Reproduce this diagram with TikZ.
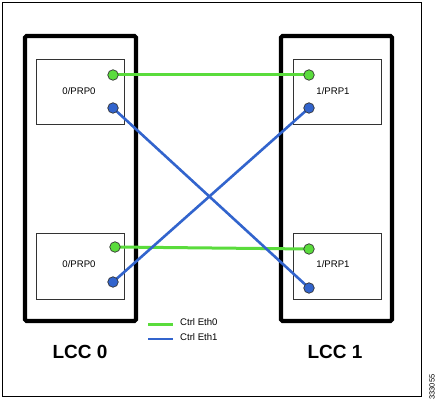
\documentclass[tikz,border=0pt]{standalone}
\usepackage{fontspec}
\setmainfont{Liberation Sans}
\begin{document}
\begin{tikzpicture}[x=1pt,y=-1pt,
  chassis/.style={draw=black,line width=4.2pt,rounded corners=1.5pt},
  card/.style={draw=black!80,line width=0.8pt,fill=white},
  gport/.style={circle,draw=black!80,line width=0.7pt,fill=linkgreen,minimum size=10.5pt,inner sep=0pt},
  bport/.style={circle,draw=black!80,line width=0.7pt,fill=linkblue,minimum size=10.5pt,inner sep=0pt},
  glink/.style={draw=linkgreen,line width=3pt},
  blink/.style={draw=linkblue,line width=2.6pt},
  small/.style={font=\fontsize{9.6}{10}\selectfont},
  big/.style={font=\fontsize{19}{21}\selectfont\bfseries}
]
\definecolor{linkgreen}{RGB}{90,220,60}
\definecolor{linkblue}{RGB}{50,100,205}
\useasboundingbox (0,0) rectangle (439,401);
\fill[white] (0,0) rectangle (439,401);
\draw[line width=0.9pt] (2,2) rectangle (421.5,396.5);
% chassis
\draw[chassis] (25,36) rectangle (136,321);
\draw[chassis] (281,36) rectangle (392,321);
% cards
\node[card,minimum width=88pt,minimum height=65pt,inner sep=0pt] (c0t) at (80,91.5) {};
\node[card,minimum width=88pt,minimum height=66pt,inner sep=0pt] (c0b) at (80,266) {};
\node[card,minimum width=88pt,minimum height=65pt,inner sep=0pt] (c1t) at (337,91.5) {};
\node[card,minimum width=88pt,minimum height=66pt,inner sep=0pt] (c1b) at (337,266) {};
\node[small] (l0t) at (79,91) {0/PRP0};
\node[small] (l0b) at (79,264) {0/PRP0};
\node[small] (l1t) at (333,91) {1/PRP1};
\node[small] (l1b) at (333,264) {1/PRP1};
% port positions
\coordinate (pg0t) at (113,75);
\coordinate (pb0t) at (113,108);
\coordinate (pg0b) at (115,247);
\coordinate (pb0b) at (113,282);
\coordinate (pg1t) at (309,75);
\coordinate (pb1t) at (309,108);
\coordinate (pg1b) at (309,249);
\coordinate (pb1b) at (309,288);
% links
\draw[glink] (pg0t) -- (pg1t);
\draw[glink] (pg0b) -- (pg1b);
\draw[blink] (pb0t) -- (pb1b);
\draw[blink] (pb0b) -- (pb1t);
% ports
\node[gport] (g0t) at (pg0t) {};
\node[bport] (b0t) at (pb0t) {};
\node[gport] (g0b) at (pg0b) {};
\node[bport] (b0b) at (pb0b) {};
\node[gport] (g1t) at (pg1t) {};
\node[bport] (b1t) at (pb1t) {};
\node[gport] (g1b) at (pg1b) {};
\node[bport] (b1b) at (pb1b) {};
% legend
\coordinate (lg1) at (148,324); \coordinate (lg2) at (173,324);
\coordinate (lb1) at (148,339); \coordinate (lb2) at (173,339);
\draw[glink] (lg1) -- (lg2);
\draw[blink] (lb1) -- (lb2);
\node[small,anchor=west,inner sep=0pt] (tg) at (180,322.5) {Ctrl Eth0};
\node[small,anchor=west,inner sep=0pt] (tb) at (180,337.5) {Ctrl Eth1};
% titles
\node[big] (lcc0) at (80,352) {LCC 0};
\node[big] (lcc1) at (335,352) {LCC 1};
\node[font=\fontsize{7.5}{8}\selectfont,rotate=90] (id) at (432,387) {333055};
\end{tikzpicture}
\end{document}
